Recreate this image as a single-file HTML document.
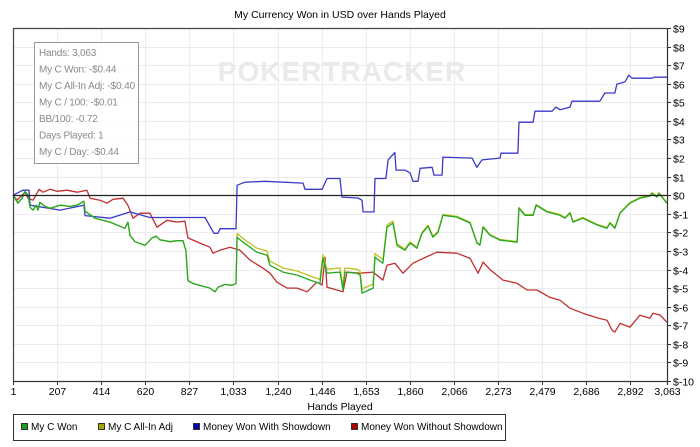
<!DOCTYPE html>
<html><head><meta charset="utf-8"><style>
html,body{margin:0;padding:0;background:#fff;width:700px;height:447px;overflow:hidden;font-family:"Liberation Sans",sans-serif;}
svg text{font-family:"Liberation Sans",sans-serif;}
</style></head><body>
<svg id="chart" width="700" height="447" viewBox="0 0 700 447" xmlns="http://www.w3.org/2000/svg">
<text x="340" y="18" font-size="10.5" text-anchor="middle" fill="#000">My Currency Won in USD over Hands Played</text>
<g id="grid"></g>
<text x="342" y="81" font-size="28" font-weight="bold" text-anchor="middle" fill="#eaeaea" letter-spacing="1">POKERTRACKER</text>
<g id="series"></g>
<g id="axes"></g>
<g>
<rect x="34.5" y="42.5" width="104" height="121" fill="#fff" fill-opacity="0.85" stroke="#999" stroke-width="1"/>
<text x="39" y="56" font-size="10" fill="#8a8a8a" letter-spacing="-0.2">Hands: 3,063</text>
<text x="39" y="72.5" font-size="10" fill="#8a8a8a" letter-spacing="-0.2">My C Won: -$0.44</text>
<text x="39" y="89" font-size="10" fill="#8a8a8a" letter-spacing="-0.2" textLength="96" lengthAdjust="spacingAndGlyphs">My C All-In Adj: -$0.40</text>
<text x="39" y="105.5" font-size="10" fill="#8a8a8a" letter-spacing="-0.2">My C / 100: -$0.01</text>
<text x="39" y="122" font-size="10" fill="#8a8a8a" letter-spacing="-0.2">BB/100: -0.72</text>
<text x="39" y="138.5" font-size="10" fill="#8a8a8a" letter-spacing="-0.2">Days Played: 1</text>
<text x="39" y="155" font-size="10" fill="#8a8a8a" letter-spacing="-0.2">My C / Day: -$0.44</text>
</g>
<text x="340" y="410" font-size="10.5" text-anchor="middle" fill="#000">Hands Played</text>
<g>
<rect x="13.5" y="414.5" width="492" height="26" fill="#fff" stroke="#333" stroke-width="1"/>
<g><rect x="21.5" y="423.5" width="6" height="6" fill="#1aa01a" stroke="#333"/><text x="31" y="430" font-size="10" fill="#000">My C Won</text></g>
<g><rect x="98.5" y="423.5" width="6" height="6" fill="#a8a800" stroke="#333"/><text x="108" y="430" font-size="10" fill="#000">My C All-In Adj</text></g>
<g><rect x="193.5" y="423.5" width="6" height="6" fill="#0000b0" stroke="#333"/><text x="203" y="430" font-size="10" fill="#000">Money Won With Showdown</text></g>
<g><rect x="351.5" y="423.5" width="6" height="6" fill="#b00000" stroke="#333"/><text x="361" y="430" font-size="10" fill="#000">Money Won Without Showdown</text></g>
</g>
</svg>
<script>
const xTicks=[1,207,414,620,827,1033,1240,1446,1653,1860,2066,2273,2479,2686,2892,3063];
const yTicks=[9,8,7,6,5,4,3,2,1,0,-1,-2,-3,-4,-5,-6,-7,-8,-9,-10];
const blueHands=[1,48,76,81,221,333,338,455,549,642,900,942,961,970,1045,1050,1087,1181,1359,1368,1448,1471,1532,1541,1616,1635,1640,1691,1696,1747,1757,1789,1794,1836,1860,1874,1897,1907,1963,1972,2010,2014,2150,2173,2197,2281,2286,2365,2370,2436,2445,2525,2543,2562,2609,2618,2749,2772,2819,2828,2866,2884,2899,2993,3002,3063];
const blueValues=[0,0.27,0.27,-0.54,-0.8,-0.54,-1.1,-1.24,-0.9,-1.2,-1.2,-2.05,-2.05,-1.8,-1.8,0.54,0.7,0.75,0.65,0.32,0.32,0.9,0.9,-0.1,-0.15,-0.27,-0.9,-0.9,0.9,0.9,1.9,2.3,1.35,1.35,1.2,0.75,0.75,1.45,1.5,1.08,1.08,2.05,2.0,1.5,1.9,2.0,2.26,2.26,3.93,3.93,4.52,4.52,4.74,4.6,4.74,5.06,5.06,5.5,5.5,5.97,6.1,6.46,6.3,6.3,6.35,6.35];
const greenHands=[1,24,43,57,71,81,95,109,118,127,151,174,221,268,301,333,338,385,455,525,539,549,572,619,652,671,689,736,769,797,811,820,844,923,947,961,994,1026,1045,1050,1078,1143,1190,1204,1265,1331,1392,1438,1452,1471,1532,1546,1555,1611,1626,1635,1687,1696,1733,1752,1780,1799,1836,1860,1892,1916,1944,1967,1991,2014,2080,2141,2173,2187,2202,2234,2281,2361,2370,2398,2436,2450,2501,2562,2585,2609,2623,2669,2735,2782,2796,2819,2843,2890,2936,2983,2993,3016,3025,3063];
const greenValues=[0,-0.43,-0.16,0.2,0,-0.65,-0.8,-0.54,-0.8,-0.38,-0.6,-0.7,-0.54,-0.6,-0.54,-0.32,-0.86,-1.24,-1.45,-1.78,-1.45,-2.15,-2.5,-2.7,-2.3,-2.2,-2.4,-2.5,-2.45,-2.45,-3.0,-4.6,-4.75,-5.0,-5.2,-4.95,-4.8,-4.85,-4.75,-2.26,-2.53,-3.07,-3.23,-3.77,-4.14,-4.3,-4.57,-4.75,-3.4,-4.2,-4.14,-5.1,-4.14,-4.2,-4.3,-5.27,-5.0,-3.34,-3.66,-1.72,-1.5,-2.7,-2.96,-2.58,-2.85,-2.05,-1.67,-2.26,-2.0,-1.08,-1.18,-1.5,-2.58,-2.69,-1.72,-2.15,-2.42,-2.53,-0.7,-1.08,-1.08,-0.54,-0.9,-1.08,-1.24,-0.97,-1.45,-1.24,-1.6,-1.78,-1.5,-1.78,-0.97,-0.43,-0.16,-0.05,0.1,-0.1,0.1,-0.44];
const yellowValues=[0,-0.43,-0.16,0.2,0,-0.65,-0.8,-0.54,-0.8,-0.38,-0.6,-0.7,-0.54,-0.6,-0.54,-0.32,-0.86,-1.24,-1.45,-1.78,-1.45,-2.15,-2.5,-2.7,-2.3,-2.2,-2.4,-2.5,-2.45,-2.45,-3.0,-4.6,-4.75,-5.0,-5.2,-4.95,-4.8,-4.85,-4.75,-2.06,-2.33,-2.85,-3.0,-3.55,-3.92,-4.08,-4.35,-4.53,-3.2,-3.98,-3.92,-4.9,-3.92,-3.98,-4.1,-5.05,-4.78,-3.14,-3.46,-1.6,-1.4,-2.6,-2.9,-2.52,-2.8,-2.0,-1.62,-2.2,-1.95,-1.04,-1.14,-1.46,-2.54,-2.65,-1.68,-2.11,-2.38,-2.49,-0.66,-1.04,-1.04,-0.5,-0.86,-1.04,-1.2,-0.93,-1.41,-1.2,-1.56,-1.74,-1.46,-1.74,-0.93,-0.39,-0.12,-0.01,0.14,-0.06,0.14,-0.40];
const redHands=[1,20,34,57,71,95,123,141,174,207,254,301,347,362,408,441,469,516,539,563,596,642,675,722,769,806,820,876,923,937,970,1017,1064,1111,1134,1172,1204,1237,1284,1331,1378,1424,1448,1462,1471,1518,1546,1565,1626,1687,1733,1752,1789,1827,1874,1921,1986,2080,2141,2178,2202,2234,2295,2361,2408,2454,2515,2562,2609,2669,2735,2782,2806,2819,2843,2890,2936,2983,2997,3030,3063];
const redValues=[0,-0.27,-0.1,0.16,-0.16,-0.27,0.32,0.16,0.32,0.21,0.27,0.16,0.27,-0.16,-0.27,-0.43,-0.22,-0.16,-0.54,-1.24,-0.97,-0.97,-1.72,-1.35,-1.45,-1.4,-2.3,-2.58,-2.8,-3.12,-2.96,-2.8,-2.96,-3.5,-3.66,-3.93,-4.2,-4.68,-5.0,-5.0,-5.2,-4.68,-4.84,-3.34,-4.95,-5.1,-5.2,-4.14,-4.2,-4.14,-4.57,-3.77,-3.66,-4.2,-3.66,-3.4,-3.07,-3.12,-3.4,-4.2,-3.6,-4.0,-4.57,-4.74,-5.1,-5.1,-5.5,-5.65,-6.08,-6.35,-6.6,-6.73,-7.27,-7.37,-6.9,-7.1,-6.46,-6.62,-6.35,-6.45,-6.84];

const NS='http://www.w3.org/2000/svg';
const L=13,R=667,T=28,B=381,HMIN=1,HMAX=3063,VMAX=9,VMIN=-10;
function xs(h){return L+(h-HMIN)/(HMAX-HMIN)*(R-L);}
function ys(v){return T+(VMAX-v)/(VMAX-VMIN)*(B-T);}
function mk(tag,attrs,parent){const e=document.createElementNS(NS,tag);for(const k in attrs)e.setAttribute(k,attrs[k]);parent.appendChild(e);return e;}
const grid=document.getElementById('grid'),axes=document.getElementById('axes'),series=document.getElementById('series');
yTicks.forEach(v=>{
  const y=Math.round(ys(v))+0.5;
  const g=mk('line',{x1:L,x2:R,y1:y,y2:y,stroke:'#ececec','stroke-width':1},grid);
  
  
  const t=mk('line',{x1:R,x2:R+4,y1:y,y2:y,stroke:'#333'},axes);
  
  
  const lb=mk('text',{x:R+6,y:y+4,'font-size':10.5,fill:'#000'},axes);
  
  
  lb.textContent=(v<0?'$-'+(-v):'$'+v);
});
xTicks.forEach((h,i)=>{
  const x=Math.round(xs(h))+0.5;
  const g=mk('line',{x1:x,x2:x,y1:T,y2:B,stroke:'#ececec','stroke-width':1},grid);
  
  
  const t=mk('line',{x1:x,x2:x,y1:B,y2:B+4,stroke:'#333'},axes);
  
  
  const lb=mk('text',{x:x,y:B+14,'font-size':10.5,fill:'#000','text-anchor':'middle'},axes);
  
  
  lb.textContent=h.toLocaleString('en-US');
});
const bdr=mk('path',{d:`M${L+0.5},${B} V${T+0.5} H${R}`,fill:'none',stroke:'#444','stroke-width':1.2},axes);


const ra=mk('line',{x1:R+0.5,x2:R+0.5,y1:T,y2:B+4,stroke:'#333','stroke-width':1.2},axes);


const xa=mk('line',{x1:L,x2:R,y1:B+0.5,y2:B+0.5,stroke:'#333','stroke-width':1.2},axes);


const z=Math.round(ys(0))+0.5;
const zl=mk('line',{x1:L,x2:R,y1:z,y2:z,stroke:'#222','stroke-width':1.2},axes);


function drawLine(hands,vals,color,name){
  const d=hands.map((h,i)=>(i?'L':'M')+xs(h).toFixed(1)+','+ys(vals[i]).toFixed(1)).join(' ');
  const p=mk('path',{d:d,fill:'none',stroke:color,'stroke-width':1.3,'stroke-linejoin':'round'},series);
  
  
}
drawLine(redHands,redValues,'#c03030','line-without-showdown');
drawLine(blueHands,blueValues,'#3a3ac8','line-with-showdown');
drawLine(greenHands,yellowValues,'#c0c020','line-all-in-adj');
drawLine(greenHands,greenValues,'#22a822','line-my-c-won');
</script>
</body></html>
